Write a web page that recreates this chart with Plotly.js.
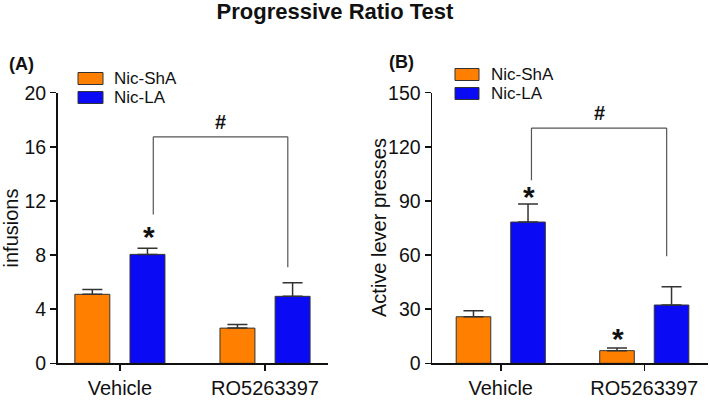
<!DOCTYPE html>
<html>
<head>
<meta charset="utf-8">
<script src="https://cdn.plot.ly/plotly-3.0.1.min.js"></script>
<style>html,body{margin:0;padding:0;background:#fff;}#chart{width:710px;height:401px;}</style>
</head>
<body>
<div id="chart"></div>
<script>
// ---- data ----
const groups = ['Vehicle', 'RO5263397'];
const seriesNames = ['Nic-ShA', 'Nic-LA'];
const yTitles = ['infusions', 'Active lever presses'];
const infShA = [5.1, 2.6];
const infShAErr = [0.35, 0.27];
const infLA = [8.05, 4.95];
const infLAErr = [0.45, 1.0];
const pressShA = [25.8, 7.0];
const pressShAErr = [3.3, 1.5];
const pressLA = [78.3, 32.3];
const pressLAErr = [10.0, 10.1];
// significance brackets: [leftX, rightX], [leftBottomY, topY, rightBottomY]
const bracketAx = [0.23, 1.157];
const bracketAy = [11.0, 16.74, 7.1];
const bracketBx = [0.214, 1.156];
const bracketBy = [101.5, 130.4, 59.4];
// star markers: [x, y]
const starsA = [[0.2, 9.6]];
const starsB = [[0.2, 94.0], [0.816, 15.3]];

const ORANGE = '#FF8000';
const BLUE = '#0A0AF5';
const FONT = 'Arial, "Liberation Sans", sans-serif';

function barTrace(name, y, err, color, xa, ya) {
  return {
    type: 'bar', name: name, x: groups, y: y, xaxis: xa, yaxis: ya,
    marker: {color: color, line: {color: '#333', width: 1}},
    error_y: {type: 'data', symmetric: false, array: err, arrayminus: err.map(() => 0),
              color: '#333', thickness: 1.5, width: 10},
    showlegend: false, hoverinfo: 'y'
  };
}

const data = [
  barTrace(seriesNames[0], infShA, infShAErr, ORANGE, 'x', 'y'),
  barTrace(seriesNames[1], infLA, infLAErr, BLUE, 'x', 'y'),
  barTrace(seriesNames[0], pressShA, pressShAErr, ORANGE, 'x2', 'y2'),
  barTrace(seriesNames[1], pressLA, pressLAErr, BLUE, 'x2', 'y2')
];

const axisCommon = {
  showline: true, linecolor: '#111', linewidth: 1.5, ticks: 'outside', ticklen: 6,
  tickwidth: 1.5, tickcolor: '#111', showgrid: false, zeroline: false,
  tickfont: {family: FONT, size: 20, color: '#111'}, fixedrange: true
};
const yTickFont = {family: FONT, size: 19.5, color: '#111'};

function bracket(xs, ys, xr, yr) {
  const line = {color: '#555', width: 1.2};
  return [
    {type: 'line', xref: xr, yref: yr, x0: xs[0], x1: xs[0], y0: ys[0], y1: ys[1], line: line},
    {type: 'line', xref: xr, yref: yr, x0: xs[0], x1: xs[1], y0: ys[1], y1: ys[1], line: line},
    {type: 'line', xref: xr, yref: yr, x0: xs[1], x1: xs[1], y0: ys[1], y1: ys[2], line: line}
  ];
}

function legendShapes(x0, x1, rows) {
  return rows.map((r, i) => ({
    type: 'rect', xref: 'paper', yref: 'paper',
    x0: x0 / 710, x1: x1 / 710, y0: 1 - r[1] / 401, y1: 1 - r[0] / 401,
    fillcolor: i === 0 ? ORANGE : BLUE, line: {color: '#333', width: 1}
  }));
}
function legendText(x, centers) {
  return centers.map((c, i) => ({
    xref: 'paper', yref: 'paper', x: x / 710, y: 1 - c / 401, xanchor: 'left', yanchor: 'middle',
    text: seriesNames[i], showarrow: false, font: {family: FONT, size: 17, color: '#111'}
  }));
}
function stars(list, xr, yr) {
  return list.map(s => ({
    xref: xr, yref: yr, x: s[0], y: s[1], text: '<b>*</b>', showarrow: false,
    xanchor: 'center', yanchor: 'middle', yshift: -3, font: {family: FONT, size: 30, color: '#111'}
  }));
}
function hashMark(xs, ys, xr, yr) {
  return {xref: xr, yref: yr, x: (xs[0] + xs[1]) / 2, y: ys[1], text: '<b>#</b>', showarrow: false,
    xanchor: 'center', yanchor: 'bottom', yshift: 2, font: {family: FONT, size: 20, color: '#111'}};
}

const layout = {
  width: 710, height: 401,
  margin: {l: 0, r: 0, t: 0, b: 0},
  paper_bgcolor: '#fff', plot_bgcolor: '#fff',
  barmode: 'group', bargap: 0.24, bargroupgap: 0.366,
  showlegend: false,
  title: {text: '<b>Progressive Ratio Test</b>', x: 335 / 710, xanchor: 'center', y: 1 - 11 / 401, yanchor: 'middle',
          font: {family: FONT, size: 22, color: '#111'}},
  xaxis: Object.assign({}, axisCommon, {domain: [57.5 / 710, 328 / 710], range: [-0.43, 1.434], anchor: 'y'}),
  yaxis: Object.assign({}, axisCommon, {domain: [(401 - 363.3) / 401, (401 - 92.7) / 401], range: [0, 20],
          tickvals: [0, 4, 8, 12, 16, 20], anchor: 'x', tickfont: yTickFont,
          title: {text: yTitles[0], font: {family: FONT, size: 20, color: '#111'}, standoff: 5}}),
  xaxis2: Object.assign({}, axisCommon, {domain: [432 / 710, 708 / 710], range: [-0.479, 1.444], anchor: 'y2'}),
  yaxis2: Object.assign({}, axisCommon, {domain: [(401 - 363.3) / 401, (401 - 92.7) / 401], range: [0, 150],
          tickvals: [0, 30, 60, 90, 120, 150], anchor: 'x2', tickfont: yTickFont}),
  shapes: [].concat(
    bracket(bracketAx, bracketAy, 'x', 'y'),
    bracket(bracketBx, bracketBy, 'x2', 'y2'),
    legendShapes(78, 103, [[72.5, 84.5], [91.5, 103.5]]),
    legendShapes(455, 479, [[68.5, 80.5], [87.5, 99.5]])
  ),
  annotations: [].concat(
    [{xref: 'paper', yref: 'paper', x: 7 / 710, y: 1 - 64 / 401, xanchor: 'left', yanchor: 'middle',
      text: '<b>(A)</b>', showarrow: false, font: {family: FONT, size: 18, color: '#111'}},
     {xref: 'paper', yref: 'paper', x: 387 / 710, y: 1 - 62 / 401, xanchor: 'left', yanchor: 'middle',
      text: '<b>(B)</b>', showarrow: false, font: {family: FONT, size: 18, color: '#111'}},
     {xref: 'paper', yref: 'paper', x: 379 / 710, y: 1 - 227 / 401, xanchor: 'center', yanchor: 'middle',
      textangle: -90, text: yTitles[1], showarrow: false, font: {family: FONT, size: 20, color: '#111'}}],
    legendText(112, [78.5, 97.5]),
    legendText(489, [74.5, 93.5]),
    stars(starsA, 'x', 'y'),
    stars(starsB, 'x2', 'y2'),
    [hashMark(bracketAx, bracketAy, 'x', 'y'), hashMark(bracketBx, bracketBy, 'x2', 'y2')]
  )
};

Plotly.newPlot('chart', data, layout, {displayModeBar: false, staticPlot: true});
</script>
</body>
</html>
